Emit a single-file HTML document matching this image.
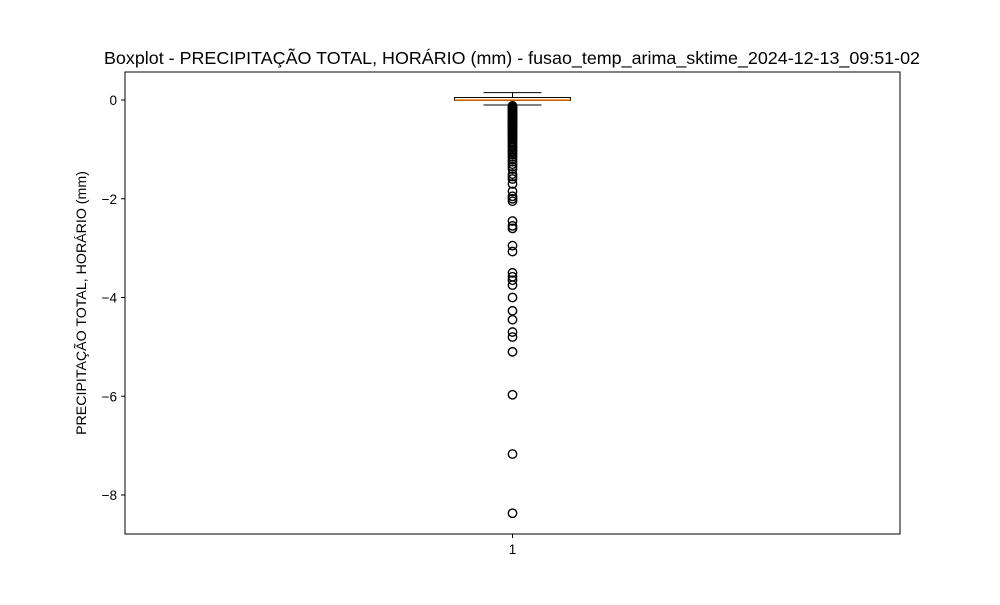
<!DOCTYPE html>
<html><head><meta charset="utf-8"><style>
body{margin:0;background:#fff;font-family:"Liberation Sans","DejaVu Sans",sans-serif}
</style></head><body>
<svg width="1000" height="600" xmlns="http://www.w3.org/2000/svg" id="chart">
<rect width="1000" height="600" fill="#fff"/>
<text x="512" y="64" font-size="17.9" text-anchor="middle">Boxplot - PRECIPITAÇÃO TOTAL, HORÁRIO (mm) - fusao_temp_arima_sktime_2024-12-13_09:51-02</text>
<text transform="translate(86,303) rotate(-90)" font-size="14.2" text-anchor="middle">PRECIPITAÇÃO TOTAL, HORÁRIO (mm)</text>
<g id="marks"></g>
<rect x="125" y="72" width="775" height="462" fill="none" stroke="#000" stroke-width="1"/>
</svg>
<script>
const yTicks=[0,-2,-4,-6,-8];
const yTickLabels=["0","−2","−4","−6","−8"];
const categories=["1"];
const q1=[-0.01],median=[0],q3=[0.05],whiskerLow=[-0.1],whiskerHigh=[0.15];
const outliers=[-0.12,-0.14,-0.16,-0.18,-0.2,-0.22,-0.24,-0.26,-0.28,-0.3,-0.32,-0.34,-0.36,-0.38,-0.4,-0.42,-0.44,-0.46,-0.48,-0.5,-0.52,-0.54,-0.56,-0.58,-0.6,-0.62,-0.64,-0.66,-0.68,-0.7,-0.72,-0.74,-0.76,-0.78,-0.8,-0.83,-0.86,-0.9,-0.93,-0.96,-1.0,-1.03,-1.06,-1.1,-1.15,-1.2,-1.25,-1.3,-1.35,-1.4,-1.5,-1.55,-1.6,-1.7,-1.85,-1.95,-2.0,-2.05,-2.45,-2.55,-2.6,-2.95,-3.07,-3.5,-3.58,-3.65,-3.75,-4.0,-4.27,-4.45,-4.7,-4.8,-5.1,-5.97,-7.17,-8.37];
const NS="http://www.w3.org/2000/svg";
const y=v=>100-v*49.375;
const x=i=>512.5+i*0;
const g=document.getElementById('marks');
function mk(t,a){const e=document.createElementNS(NS,t);for(const k in a)e.setAttribute(k,a[k]);g.appendChild(e);return e;}
yTicks.forEach((v,i)=>{
 const l=mk('line',{x1:121,x2:125,y1:y(v),y2:y(v),stroke:'#000'});
 
 
 const t=mk('text',{x:117,y:y(v)+5,'font-size':13.5,'text-anchor':'end'});t.textContent=yTickLabels[i];
 
 
});
categories.forEach((c,i)=>{
 const cx=x(i);
 const tk=mk('line',{x1:cx,x2:cx,y1:534,y2:538,stroke:'#000'});
 
 
 const t=mk('text',{x:cx,y:554,'font-size':13.5,'text-anchor':'middle'});t.textContent=c;
 
 
 const w1=mk('line',{x1:cx,x2:cx,y1:y(q3[i]),y2:y(whiskerHigh[i]),stroke:'#000'});
 
 
 const w2=mk('line',{x1:cx,x2:cx,y1:y(q1[i]),y2:y(whiskerLow[i]),stroke:'#000'});
 
 
 const c1=mk('line',{x1:cx-29,x2:cx+29,y1:y(whiskerHigh[i]),y2:y(whiskerHigh[i]),stroke:'#000'});
 
 
 const c2=mk('line',{x1:cx-29,x2:cx+29,y1:y(whiskerLow[i]),y2:y(whiskerLow[i]),stroke:'#000'});
 
 
 const b=mk('rect',{x:cx-58,y:y(q3[i]),width:116,height:y(q1[i])-y(q3[i]),fill:'none',stroke:'#000'});
 
 
 const m=mk('line',{x1:cx-58,x2:cx+58,y1:y(median[i]),y2:y(median[i]),stroke:'#ff7f0e','stroke-width':1.5});
 
 
 outliers.forEach(v=>{
  const o=mk('circle',{cx:cx,cy:y(v),r:4.2,fill:'none',stroke:'#000','stroke-width':1.4});
  
  
 });
});
</script>
</body></html>
